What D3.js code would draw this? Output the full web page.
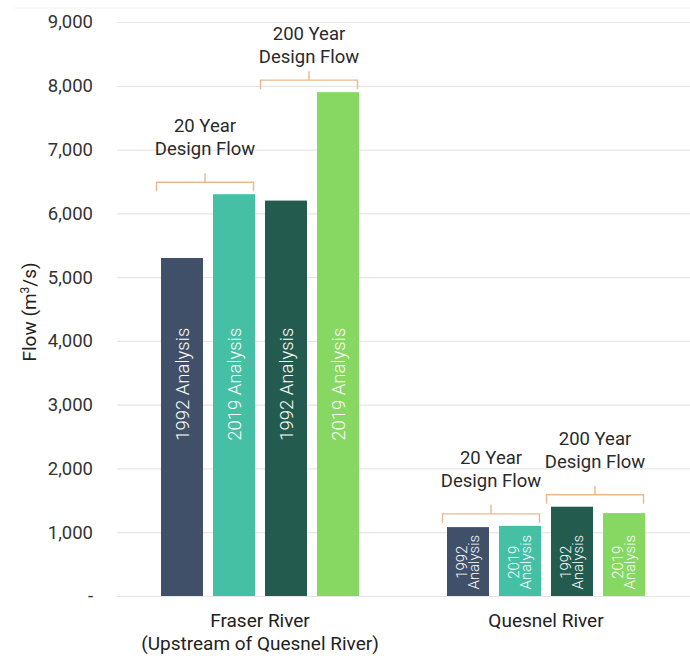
<!DOCTYPE html>
<html>
<head>
<meta charset="utf-8">
<script src="https://cdn.jsdelivr.net/npm/d3@7"></script>
<style>
  html, body { margin: 0; padding: 0; background: #fff; }
  svg { display: block; font-family: Roboto, "Noto Sans", sans-serif; }
</style>
</head>
<body>
<svg id="chart" width="690" height="656"></svg>
<script>
// Rivers and the four analyses shown for each
const rivers = ["Fraser River", "Quesnel River"];
const riverLabels = [["Fraser River", "(Upstream of Quesnel River)"], ["Quesnel River"]];
const series = ["20yr-1992", "20yr-2019", "200yr-1992", "200yr-2019"];
const seriesYears = ["1992", "2019", "1992", "2019"];
const colors = ["#3f5068", "#45c0a5", "#235c4f", "#86d862"];

// Design flow (m³/s) per river, in series order
const fraserFlow = [5300, 6300, 6200, 7900];
const quesnelFlow = [1080, 1100, 1400, 1300];
const flows = [fraserFlow, quesnelFlow];

// Bracket groups over pairs of bars
const groupNames = [["20 Year", "Design Flow"], ["200 Year", "Design Flow"]];
const groupMembers = [[0, 1], [2, 3]];

const yTicks = [0, 1000, 2000, 3000, 4000, 5000, 6000, 7000, 8000, 9000];

const svg = d3.select("#chart");
const W = 690;
const plotLeft = 117, plotTop = 22, plotBottom = 596;
const groupWidth = 198;

const y = d3.scaleLinear().domain([0, 9000]).range([plotBottom, plotTop]);
const x0 = d3.scaleBand().domain(rivers).range([plotLeft, W - 1]).padding(0);
const x1 = d3.scaleBand().domain(series).range([0, groupWidth])
  .paddingInner(10 / 52).paddingOuter(0);

// faint frame line along the top
svg.append("line").attr("x1", 13).attr("x2", W).attr("y1", 8).attr("y2", 8)
  .attr("stroke", "#f0f0f0").attr("stroke-width", 1);

// gridlines and y tick labels
const yAxis = d3.axisLeft(y).tickValues(yTicks).tickSize(-(W - plotLeft)).tickPadding(24)
  .tickFormat(d => d === 0 ? "-" : d3.format(",")(d));
const gy = svg.append("g").attr("transform", `translate(${plotLeft},0)`).call(yAxis);
gy.select(".domain").remove();
gy.selectAll(".tick line").attr("stroke", "#e6e6e6").attr("stroke-width", 1.2);
gy.selectAll(".tick text").attr("fill", "#333").style("font-size", "18.5px")
  .style("font-family", "Roboto, sans-serif");

// y axis title
svg.append("text")
  .attr("transform", "translate(36,312) rotate(-90)")
  .attr("text-anchor", "middle").attr("fill", "#222").style("font-size", "19px")
  .call(t => {
    t.append("tspan").text("Flow (m");
    t.append("tspan").text("3").attr("dy", -7).style("font-size", "12px");
    t.append("tspan").text("/s)").attr("dy", 7);
  });

const groupOffset = (x0.bandwidth() - groupWidth) / 2;

rivers.forEach((river, ri) => {
  const gx = x0(river) + groupOffset;
  const g = svg.append("g").attr("transform", `translate(${gx},0)`);
  const vals = flows[ri];

  g.selectAll("rect").data(vals).join("rect")
    .attr("x", (d, i) => x1(series[i]))
    .attr("width", x1.bandwidth())
    .attr("y", d => y(d))
    .attr("height", d => plotBottom - y(d))
    .attr("fill", (d, i) => colors[i]);

  // labels inside bars
  vals.forEach((v, i) => {
    const cx = x1(series[i]) + x1.bandwidth() / 2;
    if (ri === 0) {
      g.append("text")
        .attr("transform", `translate(${cx + 7},${y(3320)}) rotate(-90)`)
        .attr("text-anchor", "middle").attr("fill", "#fff")
        .style("font-size", "18.5px").style("font-weight", 300)
        .text(seriesYears[i] + " Analysis");
    } else {
      const t = g.append("text")
        .attr("transform", `translate(${cx},${y(530)}) rotate(-90)`)
        .attr("text-anchor", "middle").attr("fill", "#fff")
        .style("font-size", "15px").style("font-weight", 300);
      t.append("tspan").attr("x", 0).attr("dy", -1).text(seriesYears[i]);
      t.append("tspan").attr("x", 0).attr("dy", 11.5).text("Analysis");
    }
  });

  // brackets with captions
  groupMembers.forEach((m, gi) => {
    const xa = x1(series[m[0]]) - 4.5;
    const xb = x1(series[m[1]]) + x1.bandwidth() - 1.5;
    const top = y(d3.max(m, k => vals[k]));
    const line = top - 12;      // horizontal bracket line
    const ends = line + 9;      // bottom of bracket ends
    const mid = (xa + xb) / 2;
    const path = `M${xa},${ends}V${line}H${xb}V${ends}M${mid},${line}V${line - 9}`;
    g.append("path").attr("d", path).attr("fill", "none")
      .attr("stroke", "#e9b98c").attr("stroke-width", 1.4);
    // caption sits above the bracket, kept inside the top of the plot
    const base = Math.max(line - 27, 63);
    const tx = g.append("text").attr("text-anchor", "middle")
      .attr("fill", "#2a2a2a").style("font-size", "18.5px");
    tx.append("tspan").attr("x", mid).attr("y", base - 23).text(groupNames[gi][0]);
    tx.append("tspan").attr("x", mid).attr("y", base).text(groupNames[gi][1]);
  });
});

// category labels
rivers.forEach((river, ri) => {
  const cx = x0(river) + x0.bandwidth() / 2;
  const t = svg.append("text").attr("text-anchor", "middle").attr("fill", "#222")
    .style("font-size", "19px");
  riverLabels[ri].forEach((line, li) => {
    t.append("tspan").attr("x", cx).attr("y", 627 + li * 23).text(line);
  });
});
</script>
</body>
</html>
